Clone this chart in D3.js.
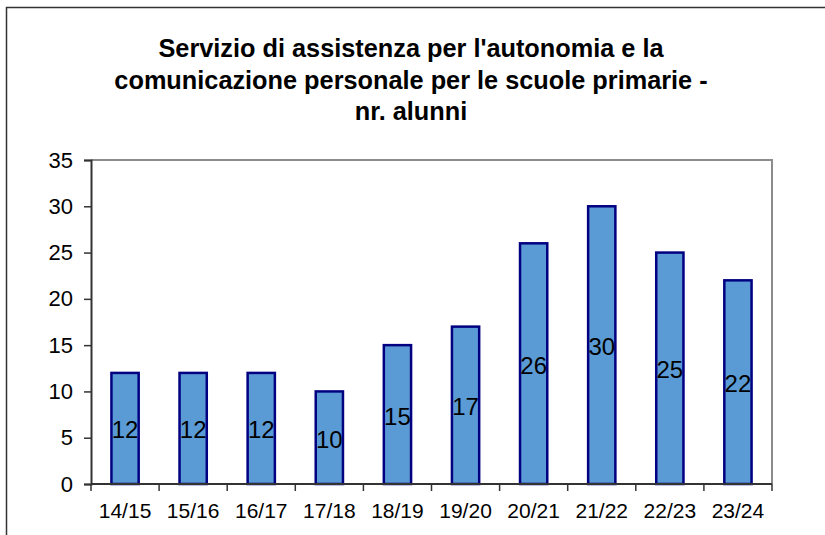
<!DOCTYPE html>
<html>
<head>
<meta charset="utf-8">
<script src="https://cdn.jsdelivr.net/npm/d3@7"></script>
<style>
  html, body { margin: 0; background: #fff; overflow: hidden; }
  svg { display: block; font-family: Arial, "Liberation Sans", sans-serif; }
</style>
</head>
<body>
<div id="chart"></div>
<script>
const years = ['14/15', '15/16', '16/17', '17/18', '18/19', '19/20', '20/21', '21/22', '22/23', '23/24'];
const alunni = [12, 12, 12, 10, 15, 17, 26, 30, 25, 22];
const yTicks = [0, 5, 10, 15, 20, 25, 30, 35];
const titleLines = [
  "Servizio di assistenza per l'autonomia e la",
  "comunicazione personale per le scuole primarie -",
  "nr. alunni"
];

const W = 825, H = 535;
const plot = { left: 91, right: 772, top: 160, bottom: 484 };

const svg = d3.select('#chart')
  .append('svg')
  .attr('width', W)
  .attr('height', H);

// chart frame, cut off at right and bottom like the picture
svg.append('path')
  .attr('d', `M6.5,${H}V7.5H${W}`)
  .attr('fill', 'none')
  .attr('stroke', '#333')
  .attr('stroke-width', 1.5);

svg.append('g')
  .selectAll('text')
  .data(titleLines)
  .join('text')
  .attr('x', 411)
  .attr('y', (d, i) => 57 + i * 31.5)
  .attr('text-anchor', 'middle')
  .attr('font-size', 25.3)
  .attr('font-weight', 'bold')
  .attr('fill', '#000')
  .text(d => d);

const x = d3.scaleBand()
  .domain(years)
  .range([plot.left, plot.right])
  .paddingInner(0.6)
  .paddingOuter(0.3);

const y = d3.scaleLinear()
  .domain([0, 35])
  .range([plot.bottom, plot.top]);

// top and right border of the plot area
svg.append('path')
  .attr('d', `M${plot.left},${plot.top}H${plot.right}V${plot.bottom}`)
  .attr('fill', 'none')
  .attr('stroke', '#8c8c8c')
  .attr('stroke-width', 2);

// bars
svg.append('g')
  .selectAll('rect')
  .data(alunni)
  .join('rect')
  .attr('x', (d, i) => x(years[i]))
  .attr('y', d => y(d))
  .attr('width', x.bandwidth())
  .attr('height', d => y(0) - y(d))
  .attr('fill', '#5b9bd5')
  .attr('stroke', '#000080')
  .attr('stroke-width', 2.5);

// y axis
const yAxis = svg.append('g')
  .attr('transform', `translate(${plot.left},0)`)
  .call(d3.axisLeft(y).tickValues(yTicks).tickSize(7).tickPadding(11));
yAxis.select('.domain').attr('stroke', '#333').attr('stroke-width', 2);
yAxis.selectAll('.tick line').attr('stroke', '#333').attr('stroke-width', 1.5);
yAxis.selectAll('.tick text')
  .attr('font-size', 22)
  .attr('font-family', 'Arial, "Liberation Sans", sans-serif')
  .attr('fill', '#000');

// x axis: ticks sit between categories
const step = x.step();
const xAxis = svg.append('g')
  .attr('transform', `translate(0,${plot.bottom})`);
xAxis.append('line')
  .attr('x1', plot.left).attr('x2', plot.right)
  .attr('stroke', '#333').attr('stroke-width', 2);
xAxis.selectAll('line.tk')
  .data(d3.range(years.length + 1))
  .join('line')
  .attr('class', 'tk')
  .attr('x1', i => plot.left + i * step)
  .attr('x2', i => plot.left + i * step)
  .attr('y1', 0).attr('y2', 7)
  .attr('stroke', '#333').attr('stroke-width', 1.5);
xAxis.selectAll('text')
  .data(years)
  .join('text')
  .attr('x', d => x(d) + x.bandwidth() / 2)
  .attr('y', 34)
  .attr('text-anchor', 'middle')
  .attr('font-size', 21)
  .attr('fill', '#000')
  .text(d => d);

// value labels in the middle of each bar
svg.append('g')
  .selectAll('text')
  .data(alunni)
  .join('text')
  .attr('x', (d, i) => x(years[i]) + x.bandwidth() / 2)
  .attr('y', d => (y(d) + y(0)) / 2 + 10)
  .attr('text-anchor', 'middle')
  .attr('font-size', 24)
  .attr('fill', '#000')
  .text(d => d);
</script>
</body>
</html>
